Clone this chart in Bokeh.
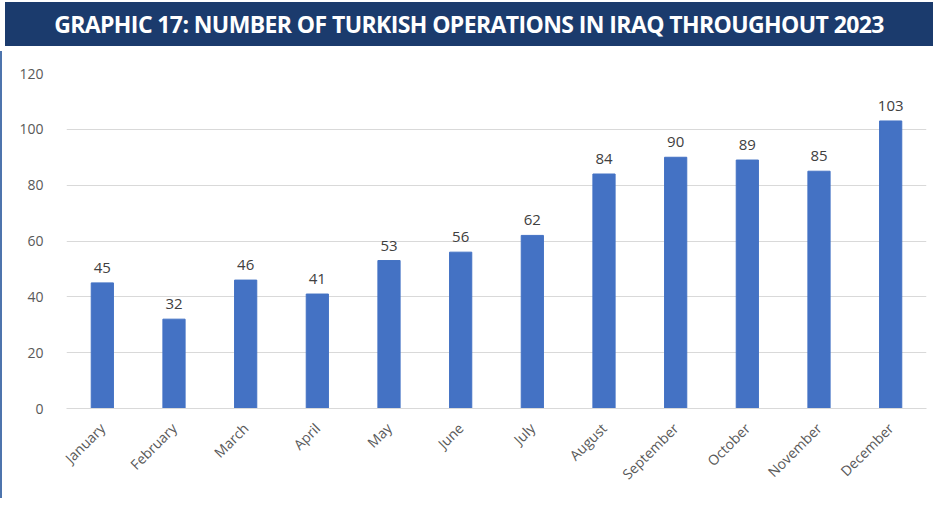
from bokeh.plotting import figure
from bokeh.models import ColumnDataSource, Div, FactorRange
from bokeh.layouts import column
from bokeh.embed import file_html
from bokeh.resources import INLINE
from bokeh.core.properties import value

months = ["January", "February", "March", "April", "May", "June", "July",
          "August", "September", "October", "November", "December"]
operations = [45, 32, 46, 41, 53, 56, 62, 84, 90, 89, 85, 103]
y_ticks = [0, 20, 40, 60, 80, 100, 120]
title_text = "GRAPHIC 17: NUMBER OF TURKISH OPERATIONS IN IRAQ THROUGHOUT 2023"

src = ColumnDataSource(data=dict(month=months, ops=operations,
                                 lbl=[str(v) for v in operations]))

banner = Div(text=title_text, width=928, height=44,
             styles={"background-color": "#1b3b6d", "color": "white",
                     "font-family": "Open Sans", "font-weight": "700",
                     "font-size": "23px", "text-align": "center",
                     "line-height": "44px", "width": "928px", "height": "44px",
                     "white-space": "nowrap", "letter-spacing": "-0.6px",
                     "margin-top": "2px"})

p = figure(x_range=FactorRange(*months, range_padding=0), y_range=(0, 120),
           width=928, height=447, output_backend="svg", toolbar_location=None,
           min_border_left=64, min_border_right=4, min_border_top=22,
           min_border_bottom=90, outline_line_color=None,
           styles={"border-left": "2px solid #4d74ad"})

p.vbar(x="month", top="ops", width=0.31, source=src, color="#4472c4")
p.text(x="month", y="ops", text="lbl", source=src, y_offset=-10,
       text_align="center", text_baseline="bottom", text_font_size="15px",
       text_color="#404040", text_font=value("Open Sans"))

p.yaxis.ticker = y_ticks
p.yaxis.axis_line_color = None
p.yaxis.major_tick_line_color = None
p.yaxis.minor_tick_line_color = None
p.yaxis.major_label_standoff = 17
p.yaxis.major_label_text_font = "Open Sans"
p.yaxis.major_label_text_font_size = "14px"
p.yaxis.major_label_text_color = "#595959"

p.xaxis.axis_line_color = "#d9d9d9"
p.xaxis.major_tick_line_color = None
p.xaxis.minor_tick_line_color = None
p.xaxis.major_label_orientation = 0.785
p.xaxis.major_label_standoff = 11
p.xaxis.major_label_text_font = "Open Sans"
p.xaxis.major_label_text_font_size = "14px"
p.xaxis.major_label_text_color = "#595959"

p.xgrid.grid_line_color = None
p.ygrid.grid_line_color = "#d9d9d9"
p.ygrid.grid_line_width = 1

layout = column(banner, p, spacing=0)
open("out.html", "w").write(file_html(layout, INLINE))
